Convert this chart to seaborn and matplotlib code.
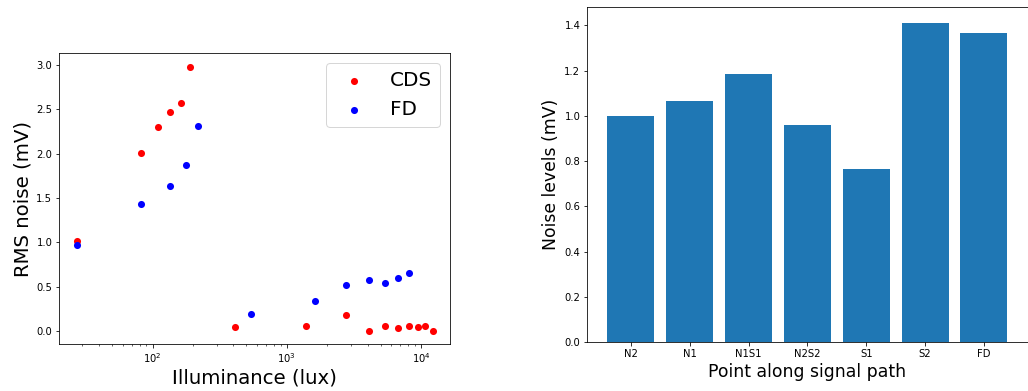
import numpy as np
import pandas as pd
import matplotlib
matplotlib.use("Agg")
import matplotlib.pyplot as plt
import seaborn as sns

# Left panel data
cds_lux = [27.4, 82, 110, 136, 164, 191, 409, 1380, 2780, 4070, 5430, 6760, 8130, 9480, 10800, 12200]
cds_noise = [1.015, 2.007, 2.297, 2.474, 2.568, 2.985, 0.041, 0.049, 0.18, 0.0, 0.049, 0.03, 0.049, 0.045, 0.049, 0.0]
fd_lux = [27.4, 82, 136, 177, 218, 545, 1625, 2780, 4070, 5430, 6760, 8130]
fd_noise = [0.966, 1.429, 1.635, 1.872, 2.316, 0.195, 0.342, 0.519, 0.579, 0.541, 0.594, 0.65]

# Right panel data
points = ["N2", "N1", "N1S1", "N2S2", "S1", "S2", "FD"]
noise_levels = [1.0, 1.064, 1.184, 0.958, 0.764, 1.409, 1.365]

DPI = 72
W, H = 1028, 391
fig = plt.figure(figsize=(W / DPI, H / DPI), dpi=DPI)

def axes_px(l, t, r, b):
    return fig.add_axes([l / W, 1 - b / H, (r - l) / W, (b - t) / H])

ax1 = axes_px(59.3, 53.3, 450.3, 344)
ax2 = axes_px(587.3, 7.3, 1027.5, 342)

sns.scatterplot(x=cds_lux, y=cds_noise, color="red", s=50, linewidth=0, label="CDS", ax=ax1)
sns.scatterplot(x=fd_lux, y=fd_noise, color="blue", s=50, linewidth=0, label="FD", ax=ax1)
ax1.set_xscale("log")
ax1.set_xlabel("Illuminance (lux)", fontsize=19.8)
ax1.set_ylabel("RMS noise (mV)", fontsize=19.8)
ax1.tick_params(labelsize=10)
ax1.legend(loc="upper right", fontsize=20)

df = pd.DataFrame({"point": points, "noise": noise_levels})
sns.barplot(data=df, x="point", y="noise", color="#1f77b4", saturation=1, width=0.8, linewidth=0, ax=ax2)
ax2.set_xlim(-0.74, len(points) - 0.26)
ax2.set_xlabel("Point along signal path", fontsize=17.3)
ax2.set_ylabel("Noise levels (mV)", fontsize=17.3)
ax2.tick_params(labelsize=10)

fig.savefig("out.png", dpi=DPI)
